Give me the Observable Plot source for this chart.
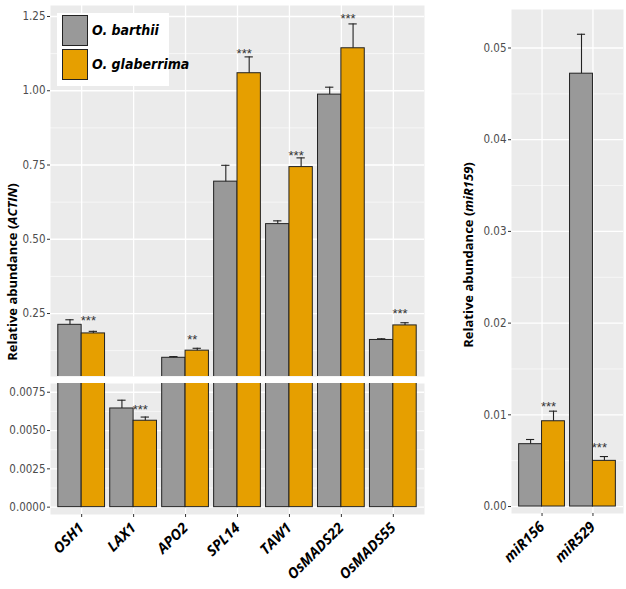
<!DOCTYPE html>
<html><head><meta charset="utf-8">
<script src="https://cdn.jsdelivr.net/npm/d3@7"></script>
<script src="https://cdn.jsdelivr.net/npm/@observablehq/plot@0.6"></script>
<style>
body{margin:0;background:#fff;}
#wrap{position:relative;width:626px;height:589px;overflow:hidden;background:#fff;}
.p{position:absolute;}
.ytitle{position:absolute;font-family:"Open Sans",sans-serif;font-weight:700;font-size:13px;color:#000;white-space:nowrap;transform:translate(-50%,-50%) rotate(-90deg);}
#legend{position:absolute;left:57px;top:13px;width:112px;height:73px;background:#fff;}
.key{position:absolute;left:5px;width:24px;height:29px;border:1px solid #222;}
.klab{position:absolute;left:35px;font-family:"Liberation Sans Narrow","DejaVu Sans Condensed",sans-serif;font-weight:700;font-style:italic;font-size:14px;color:#000;white-space:nowrap;}
</style></head><body><div id="wrap"></div>
<script>
// ---- data ----
const genes = ["OSH1","LAX1","APO2","SPL14","TAW1","OsMADS22","OsMADS55"];
const barthiiMean = [0.212, 0.00644, 0.101, 0.694, 0.551, 0.987, 0.161];
const barthiiErr  = [0.017, 0.00054, 0.004, 0.055, 0.011, 0.025, 0.004];
const glabMean    = [0.183, 0.00564, 0.125, 1.059, 0.743, 1.143, 0.210];
const glabErr     = [0.007, 0.00024, 0.008, 0.055, 0.031, 0.082, 0.009];
const geneSig     = ["***","***","**","***","***","***","***"];
const geneSigY    = [0.2365, 0.00657, 0.1726, 1.1355, 0.792, 1.2534, 0.260];

const mirnas      = ["miR156","miR529"];
const mirBarthiiMean = [0.00680, 0.0472];
const mirBarthiiErr  = [0.00051, 0.0043];
const mirGlabMean    = [0.0093, 0.00498];
const mirGlabErr     = [0.0011, 0.00047];
const mirSig      = ["***","***"];
const mirSigY     = [0.01123, 0.00676];

const species = ["O. barthii","O. glaberrima"];
const colors  = ["#999999","#E69F00"];

const topTicks = [0.25, 0.50, 0.75, 1.00, 1.25];
const topMinor = [0.125, 0.375, 0.625, 0.875, 1.125];
const botTicks = [0, 0.0025, 0.005, 0.0075];
const botMinor = [0.00125, 0.00375, 0.00625];
const mirTicks = [0, 0.01, 0.02, 0.03, 0.04, 0.05];
const mirMinor = [0.005, 0.015, 0.025, 0.035, 0.045];

// ---- helpers ----
const BW = 0.45;
function makeRows(cats, m0, e0, m1, e1) {
  return cats.flatMap((c, i) => species.map((s, j) => ({
    cat: c, i, species: s, j,
    mean: j ? m1[i] : m0[i], err: j ? e1[i] : e0[i],
    x1: i - BW + j * BW, x2: i - BW + (j + 1) * BW, xc: i - BW + j * BW + BW / 2
  })));
}
function makeSig(cats, sig, sy) {
  return cats.map((c, i) => ({i, xc: i + BW / 2, y: sy[i], t: sig[i]}));
}
const tickFont = '"Liberation Sans Narrow","DejaVu Sans Condensed",sans-serif';

function panelMarks(rows, sig, ncat, major, minor, fmt, ydom) {
  const sigIn = sig.filter(d => d.y >= ydom[0] && d.y <= ydom[1]);
  return [
    Plot.frame({fill: "#EBEBEB"}),
    Plot.gridY(minor, {stroke: "white", strokeOpacity: 1, strokeWidth: 0.6}),
    Plot.gridY(major, {stroke: "white", strokeOpacity: 1, strokeWidth: 1.3}),
    Plot.gridX(d3.range(ncat), {stroke: "white", strokeOpacity: 1, strokeWidth: 1.3}),
    Plot.rectY(rows, {x1: "x1", x2: "x2", y1: 0, y2: "mean", fill: "species", stroke: "#222", strokeWidth: 1, clip: true}),
    Plot.ruleX(rows, {x: "xc", y1: "mean", y2: d => d.mean + d.err, stroke: "#222", strokeWidth: 1.1, clip: true}),
    Plot.ruleY(rows, {y: d => d.mean + d.err, x1: d => d.xc - 0.08, x2: d => d.xc + 0.08, stroke: "#222", strokeWidth: 1.1, clip: true}),
    Plot.text(sigIn, {x: "xc", y: "y", text: "t", dx: -5, dy: 3, lineAnchor: "middle", fill: "#333", fontSize: 13, fontFamily: "Liberation Sans, sans-serif"}),
    Plot.axisY(major, {tickFormat: fmt, tickSize: 3, tickPadding: 2, stroke: "#333", fill: "#4D4D4D", fontSize: 11.5, fontFamily: tickFont, label: null})
  ];
}

const geneRows = makeRows(genes, barthiiMean, barthiiErr, glabMean, glabErr);
const geneSigRows = makeSig(genes, geneSig, geneSigY);
const mirRows = makeRows(mirnas, mirBarthiiMean, mirBarthiiErr, mirGlabMean, mirGlabErr);
const mirSigRows = makeSig(mirnas, mirSig, mirSigY);

const color = {domain: species, range: colors};
const wrap = document.getElementById("wrap");
function place(el, left, top) {
  const d = document.createElement("div");
  d.className = "p"; d.style.left = left + "px"; d.style.top = top + "px";
  d.appendChild(el); wrap.appendChild(d);
}

const topDom = [0.038, 1.287];
const botDom = [-0.00048, 0.00807];
const mirDom = [-0.00076, 0.0542];

// top-left panel (upper part of broken axis)
const pA = Plot.plot({
  width: 430, height: 378,
  marginLeft: 50, marginRight: 6, marginTop: 5, marginBottom: 2,
  x: {domain: [-0.6, genes.length - 0.4], axis: null},
  y: {domain: topDom, axis: null},
  color,
  style: {background: "transparent", overflow: "visible"},
  marks: panelMarks(geneRows, geneSigRows, genes.length, topTicks, topMinor, d3.format(".2f"), topDom)
});
place(pA, 0, 0);

// bottom-left panel (lower part of broken axis)
const pB = Plot.plot({
  width: 430, height: 209,
  marginLeft: 50, marginRight: 6, marginTop: 3, marginBottom: 75,
  x: {domain: [-0.6, genes.length - 0.4], axis: null},
  y: {domain: botDom, axis: null},
  color,
  style: {background: "transparent", overflow: "visible"},
  marks: [
    ...panelMarks(geneRows, geneSigRows, genes.length, botTicks, botMinor, d3.format(".4f"), botDom),
    Plot.axisX(d3.range(genes.length), {tickFormat: i => genes[i], tickRotate: -45, tickSize: 3, tickPadding: 8,
      stroke: "#333", fill: "#000", fontSize: 14.5, fontWeight: "bold", fontStyle: "italic", fontFamily: "Open Sans, sans-serif", label: null})
  ]
});
place(pB, 0, 380);

// right panel (miRNAs)
const pC = Plot.plot({
  width: 186, height: 589,
  marginLeft: 71, marginRight: 3, marginTop: 9, marginBottom: 76,
  x: {domain: [-0.6, mirnas.length - 0.4], axis: null},
  y: {domain: mirDom, axis: null},
  color,
  style: {background: "transparent", overflow: "visible"},
  marks: [
    ...panelMarks(mirRows, mirSigRows, mirnas.length, mirTicks, mirMinor, d3.format(".2f"), mirDom),
    Plot.axisX(d3.range(mirnas.length), {tickFormat: i => mirnas[i], tickRotate: -45, tickSize: 3, tickPadding: 8,
      stroke: "#333", fill: "#000", fontSize: 14.5, fontWeight: "bold", fontStyle: "italic", fontFamily: "Open Sans, sans-serif", label: null})
  ]
});
place(pC, 440, 0);

// y titles
function ytitle(html, x, y) {
  const d = document.createElement("div");
  d.className = "ytitle"; d.innerHTML = html;
  d.style.left = x + "px"; d.style.top = y + "px";
  wrap.appendChild(d);
}
ytitle("Relative abundance (<i>ACTIN</i>)", 12, 272);
ytitle("Relative abundance (<i>miR159</i>)", 468, 255);

// legend
const lg = document.createElement("div");
lg.id = "legend";
species.forEach((s, j) => {
  const k = document.createElement("div");
  k.className = "key"; k.style.top = (2 + j * 34) + "px"; k.style.background = colors[j];
  lg.appendChild(k);
  const t = document.createElement("div");
  t.className = "klab"; t.textContent = s; t.style.top = (9 + j * 34) + "px";
  lg.appendChild(t);
});
wrap.appendChild(lg);
</script>
</body></html>
